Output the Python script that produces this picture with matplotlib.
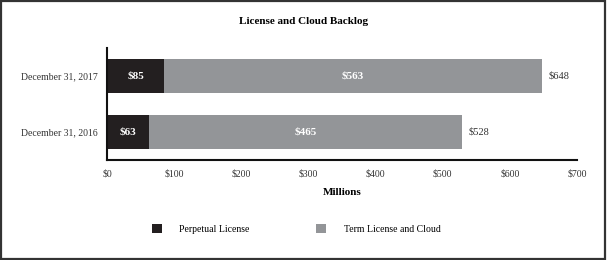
import matplotlib
matplotlib.use("Agg")
import matplotlib.pyplot as plt
from matplotlib.patches import Patch, Rectangle

categories = ["December 31, 2016", "December 31, 2017"]
perpetual = [63, 85]
term = [465, 563]
series_names = ["Perpetual License", "Term License and Cloud"]
xticks = [0, 100, 200, 300, 400, 500, 600, 700]
xticklabels = ["$0", "$100", "$200", "$300", "$400", "$500", "$600", "$700"]

c_dark = "#231f20"
c_gray = "#939598"
plt.rcParams["font.family"] = ["Liberation Serif", "DejaVu Serif"]

fig = plt.figure(figsize=(6.07, 2.60), dpi=100)
ax = fig.add_axes([107/607, 1-160/260, 470/607, 112/260])

y = list(range(len(categories)))
h = 0.62
ax.barh(y, perpetual, height=h, color=c_dark)
ax.barh(y, term, left=perpetual, height=h, color=c_gray)

for i in y:
    ax.text(perpetual[i]/2, i, f"${perpetual[i]}", ha="center", va="center",
            color="white", fontweight="bold", fontsize=8)
    ax.text(perpetual[i] + term[i]/2, i, f"${term[i]}", ha="center", va="center",
            color="white", fontweight="bold", fontsize=8)
    tot = perpetual[i] + term[i]
    ax.text(tot + 10, i, f"${tot}", ha="left", va="center", color="#333333", fontsize=7.5)

ax.set_xlim(0, 700)
ax.set_ylim(-0.5, 1.5)
ax.set_yticks(y)
ax.set_yticklabels(categories, fontsize=7)
ax.set_xticks(xticks)
ax.set_xticklabels(xticklabels, fontsize=7)
ax.tick_params(length=0, colors="#333333")
ax.tick_params(axis="x", pad=7)
ax.tick_params(axis="y", pad=7)
for s in ["top", "right"]:
    ax.spines[s].set_visible(False)
for s in ["left", "bottom"]:
    ax.spines[s].set_linewidth(1.5)
    ax.spines[s].set_color("#111111")
ax.set_xlabel("Millions", fontweight="bold", fontsize=8, labelpad=7)

fig.text(0.5, 1-22/260, "License and Cloud Backlog", ha="center", va="center",
         fontweight="bold", fontsize=8)

handles = [Patch(facecolor=c_dark), Patch(facecolor=c_gray)]
fig.legend(handles, series_names, loc="center left", bbox_to_anchor=(143/607, 1-229/260),
           ncol=2, frameon=False, fontsize=7, handlelength=1.05, handleheight=1.05,
           handletextpad=1.8, columnspacing=6.8)

fig.patches.append(Rectangle((0.002, 0.004), 0.995, 0.992, transform=fig.transFigure,
                             fill=False, edgecolor="#333333", linewidth=1.6))

fig.savefig("out.png", dpi=100)
